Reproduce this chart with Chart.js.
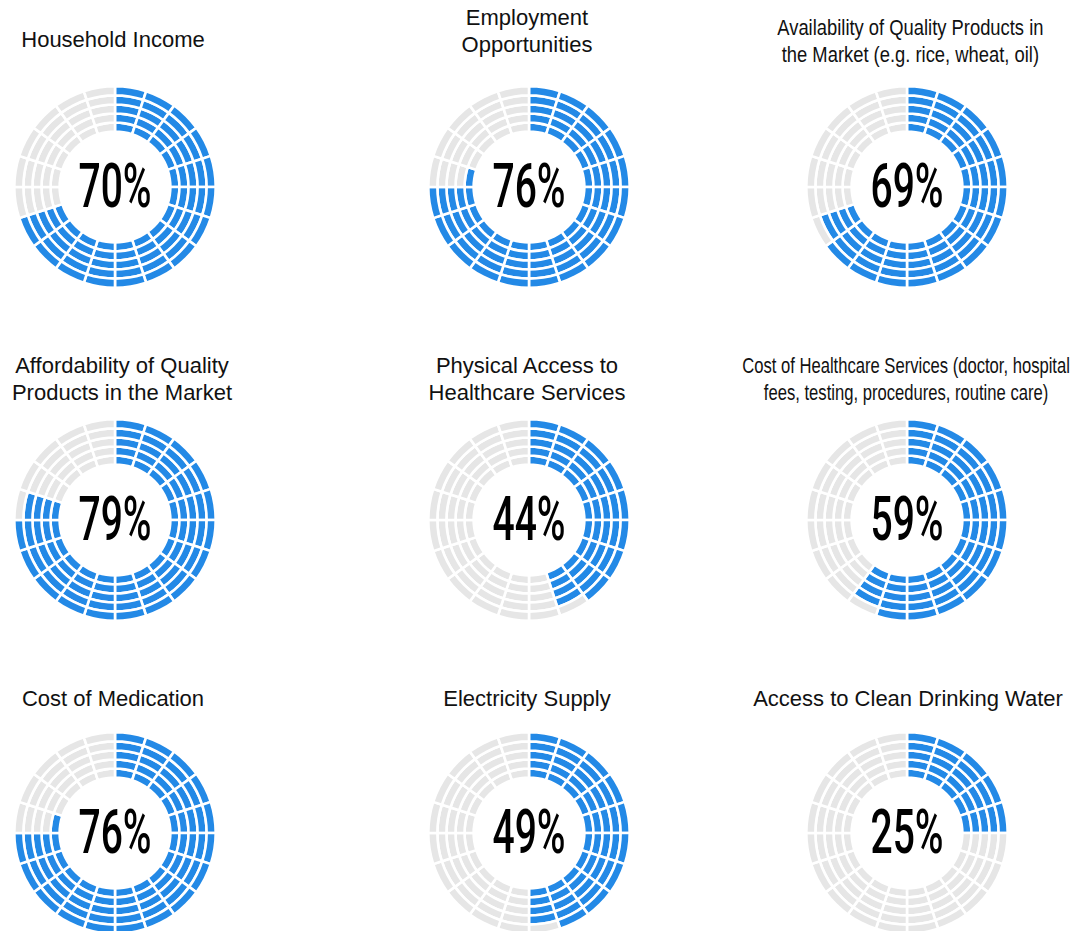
<!DOCTYPE html>
<html>
<head>
<meta charset="utf-8">
<script src="https://cdn.jsdelivr.net/npm/chart.js@4/dist/chart.umd.min.js"></script>
<style>
  html, body { margin: 0; padding: 0; background: #ffffff; }
  #page { position: relative; width: 1072px; height: 931px; overflow: hidden; background: #fff; }
  .title { position: absolute; width: 800px; text-align: center; font-family: "Liberation Sans", Arial, Helvetica, sans-serif; font-size: 22px; line-height: 27px; color: #111; white-space: nowrap; }
  .title span { display: inline-block; transform-origin: 50% 50%; }
  .box { position: absolute; }
</style>
</head>
<body>
<div id="page"></div>
<script>
// ---- data ----
const categories = [
  ["Household Income"],
  ["Employment", "Opportunities"],
  ["Availability of Quality Products in", "the Market (e.g. rice, wheat, oil)"],
  ["Affordability of Quality", "Products in the Market"],
  ["Physical Access to", "Healthcare Services"],
  ["Cost of Healthcare Services (doctor, hospital", "fees, testing, procedures, routine care)"],
  ["Cost of Medication"],
  ["Electricity Supply"],
  ["Access to Clean Drinking Water"]
];
const values = [70, 76, 69, 79, 44, 59, 76, 49, 25];
const ringCount = 5;      // concentric rings per dial
const segmentCount = 20;  // cells per ring

// ---- layout / style ----
const colX = [115, 529, 907];
const rowY = [187, 520, 833];
const titleLineY = [[39], [17, 44], [27, 55], [365, 391], [365, 391], [365, 391], [698], [698], [698]];
const titleX = [113, 527, 910, 122, 527, 906, 113, 527, 908];
const titleScale = [1, 1, 0.835, 1, 1, 0.755, 1, 1, 1];
const BLUE = '#2389e6';
const GREY = '#e6e6e6';
const SIZE = 204;

const page = document.getElementById('page');

const centerText = {
  id: 'centerText',
  afterDraw(chart, args, opts) {
    const {ctx} = chart;
    const meta = chart.getDatasetMeta(0);
    if (!meta.data.length) return;
    const cx = meta.data[0].x, cy = meta.data[0].y;
    ctx.save();
    ctx.fillStyle = '#000';
    ctx.font = '500 61px Roboto, "Liberation Sans", Arial, sans-serif';
    ctx.textAlign = 'center';
    ctx.textBaseline = 'alphabetic';
    ctx.translate(cx, cy + 20);
    ctx.scale(0.64, 1);
    ctx.fillText(opts.text, 0, 0);
    ctx.restore();
  }
};

categories.forEach((lines, i) => {
  const col = i % 3, row = Math.floor(i / 3);
  // title
  const t = document.createElement('div');
  t.className = 'title';
  t.style.left = (titleX[i] - 400) + 'px';
  t.style.top = (titleLineY[i][0] - 13.5) + 'px';
  const sp = document.createElement('span');
  sp.innerHTML = lines.join('<br>');
  sp.style.transform = 'scaleX(' + titleScale[i] + ')';
  t.appendChild(sp);
  page.appendChild(t);

  // chart
  const box = document.createElement('div');
  box.className = 'box';
  box.style.left = (colX[col] - SIZE / 2) + 'px';
  box.style.top = (rowY[row] - SIZE / 2) + 'px';
  box.style.width = SIZE + 'px';
  box.style.height = SIZE + 'px';
  const cv = document.createElement('canvas');
  box.appendChild(cv);
  page.appendChild(box);

  const v = values[i];
  const datasets = [];
  // dataset 0 is the outermost ring; ring index r counts from the inner ring
  for (let d = 0; d < ringCount; d++) {
    const r = ringCount - 1 - d;
    const colors = [];
    for (let c = 0; c < segmentCount; c++) {
      colors.push(c * ringCount + r < v ? BLUE : GREY);
    }
    datasets.push({
      data: new Array(segmentCount).fill(1),
      backgroundColor: colors,
      borderColor: '#ffffff',
      borderWidth: 2.6,
      hoverBackgroundColor: colors,
      hoverBorderColor: '#ffffff'
    });
  }

  new Chart(cv, {
    type: 'doughnut',
    data: { labels: new Array(segmentCount).fill(''), datasets },
    options: {
      responsive: true,
      maintainAspectRatio: false,
      animation: false,
      cutout: '55%',
      layout: { padding: 0 },
      events: [],
      plugins: {
        legend: { display: false },
        tooltip: { enabled: false },
        centerText: { text: v + '%' }
      }
    },
    plugins: [centerText]
  });
});
</script>
</body>
</html>
